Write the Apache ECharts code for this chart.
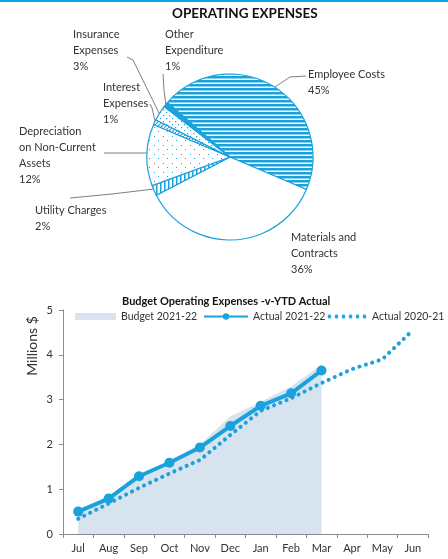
<!DOCTYPE html>
<html>
<head>
<meta charset="utf-8">
<script src="https://cdn.jsdelivr.net/npm/echarts@6/dist/echarts.min.js"></script>
<style>html,body{margin:0;padding:0;background:#fff}#c{width:448px;height:559px}</style>
</head>
<body>
<div id="c"></div>
<script>
// ---------- data ----------
const pieNames = ['Employee Costs','Materials and Contracts','Utility Charges','Depreciation on Non-Current Assets','Interest Expenses','Insurance Expenses','Other Expenditure'];
const pieLabelText = ['Employee Costs','Materials and\nContracts','Utility Charges','Depreciation\non Non-Current\nAssets','Interest\nExpenses','Insurance\nExpenses','Other\nExpenditure'];
const pieValues = [45, 36, 2, 12, 1, 3, 1];

const months = ['Jul','Aug','Sep','Oct','Nov','Dec','Jan','Feb','Mar','Apr','May','Jun'];
const budget2122 = [0.5, 0.82, 1.32, 1.63, 2.0, 2.62, 2.95, 3.3, 3.78];
const actual2122 = [0.5, 0.79, 1.29, 1.59, 1.93, 2.41, 2.86, 3.14, 3.65];
const actual2021 = [0.34, 0.68, 1.03, 1.35, 1.65, 2.21, 2.75, 3.03, 3.37, 3.68, 3.9, 4.55];
const yTicks = [0, 1, 2, 3, 4, 5];

// ---------- styles ----------
const BLUE = '#1aa2dc';
const FONT = 'Lato';
function pat(w, h, draw) {
  const c = document.createElement('canvas');
  c.width = w; c.height = h;
  const g = c.getContext('2d');
  g.fillStyle = '#fff'; g.fillRect(0, 0, w, h);
  g.fillStyle = BLUE; g.strokeStyle = BLUE;
  draw(g);
  return { image: c, repeat: 'repeat' };
}
const fills = [
  pat(4, 4, g => g.fillRect(0, 0, 4, 2.5)),
  '#ffffff',
  pat(4, 4, g => g.fillRect(0, 0, 1.5, 4)),
  pat(9, 9, g => { g.fillRect(1, 1, 1, 1); g.fillRect(5, 5, 1, 1); }),
  pat(4, 4, g => { g.lineWidth = 1.2; g.beginPath(); g.moveTo(0, 4); g.lineTo(4, 0); g.stroke(); }),
  pat(6, 6, g => { g.fillRect(1, 1, 1.2, 1.2); g.fillRect(4, 4, 1.2, 1.2); }),
  BLUE
];
// legend icon for the dotted series
function dotsIcon() {
  const c = document.createElement('canvas');
  c.width = 40; c.height = 8;
  const g = c.getContext('2d');
  g.fillStyle = BLUE;
  for (let i = 0; i < 6; i++) { g.beginPath(); g.arc(2.5 + i * 7, 4, 1.9, 0, Math.PI * 2); g.fill(); }
  return 'image://' + c.toDataURL();
}
// label placement (top-left of text) and leader line points
const labelPos = [
  { x: 308, y: 66, line: [[275, 87], [290, 77], [306, 76]] },
  { x: 291, y: 229, line: null },
  { x: 35, y: 202, line: [[154, 189], [112, 194], [70, 198]] },
  { x: 19, y: 123, line: [[148, 153], [126, 153], [104, 153]] },
  { x: 103, y: 79, line: [[155, 121], [152, 108], [150, 104]] },
  { x: 73, y: 26, line: [[159, 113], [133, 60], [127, 57]] },
  { x: 165, y: 26, line: [[166, 106], [164, 90], [163, 74]] }
];

const pieData = pieNames.map((n, i) => ({
  name: n,
  value: pieValues[i],
  itemStyle: { color: fills[i] },
  labelLine: { show: !!labelPos[i].line }
}));

const legendText = { fontSize: 10.5, color: '#333', fontFamily: FONT };
const chart = echarts.init(document.getElementById('c'), null, { renderer: 'canvas' });
chart.setOption({
  animation: false,
  textStyle: { fontFamily: FONT },
  title: [
    { text: 'OPERATING EXPENSES', left: 167, top: 2,
      textStyle: { fontSize: 13.5, fontWeight: 'bold', color: '#111', fontFamily: FONT } },
    { text: 'Budget Operating Expenses -v-YTD Actual', left: 117, top: 291,
      textStyle: { fontSize: 11, fontWeight: 'bold', color: '#111', fontFamily: FONT } }
  ],
  graphic: [
    { type: 'rect', shape: { x: 0, y: 0, width: 448, height: 2 }, style: { fill: '#08a6e4' } },
    { type: 'text', x: 32, y: 346, rotation: Math.PI / 2,
      style: { text: 'Millions $', fontSize: 14, fontFamily: FONT, fill: '#333', align: 'center', verticalAlign: 'middle' } }
  ],
  legend: [
    { left: 75, top: 311, padding: 0, itemWidth: 41, itemHeight: 7, textStyle: legendText,
      data: [{ name: 'Budget 2021-22', icon: 'rect', itemStyle: { color: '#d8e3f0' } }] },
    { left: 203, top: 311, padding: 0, itemWidth: 44, itemHeight: 8, textStyle: legendText,
      data: ['Actual 2021-22'] },
    { left: 327, top: 311, padding: 0, itemWidth: 40, itemHeight: 8, textStyle: legendText,
      data: [{ name: 'Actual 2020-21', icon: dotsIcon() }] }
  ],
  grid: { left: 63, right: 20, top: 310, height: 224 },
  xAxis: {
    type: 'category', data: months, boundaryGap: true,
    axisLine: { lineStyle: { color: '#8c8c8c' } },
    axisTick: { show: true, length: 4, lineStyle: { color: '#8c8c8c' } },
    axisLabel: { fontSize: 11, color: '#333', margin: 9, fontFamily: FONT }
  },
  yAxis: {
    type: 'value', min: yTicks[0], max: yTicks[yTicks.length - 1], interval: 1,
    axisLine: { show: true, lineStyle: { color: '#8c8c8c' } },
    axisTick: { show: true, length: 4, lineStyle: { color: '#8c8c8c' } },
    splitLine: { show: false },
    axisLabel: { fontSize: 11, color: '#333', margin: 10, fontFamily: FONT }
  },
  series: [
    {
      type: 'pie', center: [230, 157], radius: 83, startAngle: 139, clockwise: true,
      avoidLabelOverlap: false,
      itemStyle: { borderColor: BLUE, borderWidth: 1.2 },
      label: {
        show: true, fontSize: 11, lineHeight: 16, color: '#333', fontFamily: FONT,
        formatter: p => pieLabelText[p.dataIndex] + '\n' + Math.round(p.percent) + '%'
      },
      labelLine: { show: true, lineStyle: { color: '#7f7f7f', width: 1 } },
      labelLayout: p => {
        const L = labelPos[p.dataIndex];
        const o = { x: L.x, y: L.y, align: 'left', verticalAlign: 'top' };
        if (L.line) o.labelLinePoints = L.line;
        return o;
      },
      data: pieData
    },
    {
      name: 'Budget 2021-22', type: 'line', data: budget2122, symbol: 'none',
      lineStyle: { width: 0 }, itemStyle: { color: '#d8e3f0' },
      areaStyle: { color: '#d8e3f0', opacity: 1 }, z: 1
    },
    {
      name: 'Actual 2020-21', type: 'line', data: actual2021, symbol: 'none',
      itemStyle: { color: BLUE },
      lineStyle: { color: BLUE, width: 4, type: [0.1, 6.6], cap: 'round' }, z: 2
    },
    {
      name: 'Actual 2021-22', type: 'line', data: actual2122, symbol: 'circle', symbolSize: 10,
      itemStyle: { color: BLUE },
      lineStyle: { color: BLUE, width: 4 }, z: 3
    }
  ]
});
</script>
</body>
</html>
